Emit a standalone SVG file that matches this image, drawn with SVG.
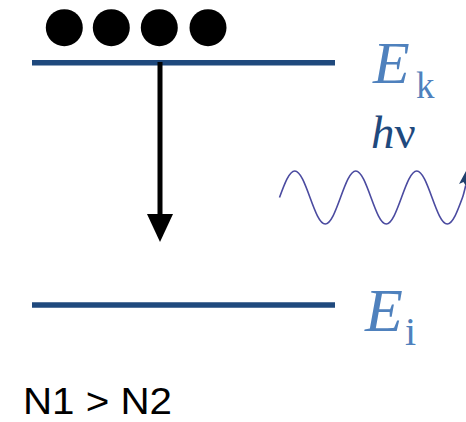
<svg xmlns="http://www.w3.org/2000/svg" width="466" height="422" viewBox="0 0 466 422">
<style>
.level{stroke:#1F497D;stroke-width:5.5;fill:none}
.dot{fill:#000}
.E{font-family:"Liberation Serif",serif;fill:#4F81BD}
.sub{font-family:"Liberation Serif",serif;fill:#4F81BD}
</style>
<rect width="466" height="422" fill="#fff"/>
<g id="electrons">
<circle class="dot" cx="64.3" cy="27.7" r="18.5"/>
<circle class="dot" cx="111.3" cy="27.7" r="18.5"/>
<circle class="dot" cx="159.3" cy="27.7" r="18.5"/>
<circle class="dot" cx="208" cy="27.7" r="18.5"/>
</g>
<g id="level-k">
<line class="level" x1="32" y1="62.7" x2="335" y2="62.7"/>
<text class="E" x="373" y="83" font-size="60" font-style="italic">E</text>
<text class="sub" x="416" y="98" font-size="37">k</text>
</g>
<g id="level-i">
<line class="level" x1="32" y1="305" x2="335" y2="305"/>
<text class="E" x="365" y="331" font-size="62" font-style="italic">E</text>
<text class="sub" x="405" y="345" font-size="40">i</text>
</g>
<g id="photon">
<text x="371" y="148" font-family="Liberation Serif,serif" font-size="47" fill="#1F497D"><tspan font-style="italic">h</tspan><tspan>ν</tspan></text>
<path d="M279.5,197.5 c4.97,-13.58 9.730,-26.5 15.25,-26.5 c5.52,0 10.28,12.92 15.25,26.5 c4.97,13.58 9.73,26.5 15.25,26.5 c5.52,0 10.28,-12.92 15.25,-26.5 c4.97,-13.58 9.73,-26.5 15.25,-26.5 c5.52,0 10.28,12.92 15.25,26.5 c4.97,13.58 9.73,26.5 15.25,26.5 c5.52,0 10.28,-12.92 15.25,-26.5 c4.97,-13.58 9.73,-26.5 15.25,-26.5 c5.52,0 10.28,12.92 15.25,26.5 c4.97,13.58 9.73,26.5 15.25,26.5 c5.52,0 10.28,-12.92 15.25,-26.5 c1.2,-3.3 2.2,-8 3.2,-12" fill="none" stroke="#4B4BA0" stroke-width="1.6"/>
<polygon points="459,184 466,171 467,188 463.5,182" fill="#1F3F6D"/>
</g>
<g id="connectors">
<line x1="160" y1="62" x2="160" y2="216" stroke="#000" stroke-width="5"/>
<polygon points="147,214 173,214 160,242" fill="#000"/>
</g>
<text x="23" y="414" font-family="Liberation Sans,Arial,sans-serif" font-size="37" textLength="149" lengthAdjust="spacingAndGlyphs" fill="#000">N1 &gt; N2</text>
</svg>
